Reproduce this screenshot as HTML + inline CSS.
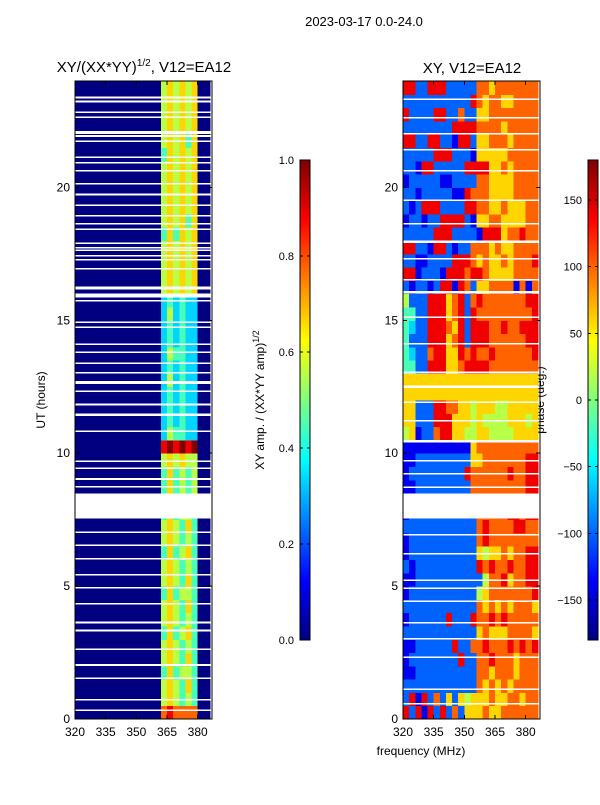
<!DOCTYPE html>
<html><head><meta charset="utf-8"><style>
body{margin:0;background:#fff;}
svg{font-family:"Liberation Sans",sans-serif;}
</style></head><body>
<svg id="fig" width="600" height="800" xmlns="http://www.w3.org/2000/svg" shape-rendering="crispEdges">
<rect width="600" height="800" fill="#fff"/>
<text x="364" y="26" font-size="13" text-anchor="middle">2023-03-17 0.0-24.0</text>
<text x="144" y="72" font-size="15" text-anchor="middle">XY/(XX*YY)<tspan dy="-6" font-size="10">1/2</tspan><tspan dy="6">, V12=EA12</tspan></text>
<text x="472" y="73" font-size="15" text-anchor="middle">XY, V12=EA12</text>
<text x="421" y="755" font-size="12" text-anchor="middle">frequency (MHz)</text>
<text x="45" y="400" font-size="12" text-anchor="middle" transform="rotate(-90 45 400)">UT (hours)</text>
<text x="264" y="400" font-size="12" text-anchor="middle" transform="rotate(-90 264 400)">XY amp. / (XX*YY amp)<tspan dy="-5" font-size="9">1/2</tspan></text>
<text x="544" y="400" font-size="12" text-anchor="middle" transform="rotate(-90 544 400)">phase (deg.)</text>
<g id="left"></g><g id="right"></g><g id="cb1"></g><g id="cb2"></g>
</svg>
<script>
const freqStart = 320, freqBinWidth = 3, hoursPerRow = 0.5;
const xTicks = [320, 335, 350, 365, 380];
const yTicks = [0, 5, 10, 15, 20];
const ampTicks = [0.0, 0.2, 0.4, 0.6, 0.8, 1.0];
const phaseTicks = [-150, -100, -50, 0, 50, 100, 150];
// amplitude rows (0..9 -> 0..1), '-' = no data; row 0 = 0-0.5 h
const ampRows = [
"0000000000000078777700","0000000000000056545400","0000000000000056546400","0000000000000046455400",
"0000000000000056546400","0000000000000056545400","0000000000000046456400","0000000000000056545400",
"0000000000000056546400","0000000000000046455400","0000000000000056546400","0000000000000056545400",
"0000000000000046456400","0000000000000056545400","0000000000000056546400","0000000000000046455400",
"----------------------","0000000000000046454500","0000000000000046454500","0000000000000056565500",
"0000000000000089898900","0000000000000035443300","0000000000000034343300","0000000000000034343300",
"0000000000000034343300","0000000000000035343300","0000000000000034343300","0000000000000035443300",
"0000000000000034343300","0000000000000034343300","0000000000000035343300","0000000000000034343300",
"0000000000000056565600","0000000000000056565600","0000000000000056565600","0000000000000056565600",
"0000000000000046465600","0000000000000056564600","0000000000000056565600","0000000000000056565600",
"0000000000000056565600","0000000000000056565600","0000000000000046565600","0000000000000056564600",
"0000000000000056565600","0000000000000056565600","0000000000000056565600","0000000000000056565600"];
// phase rows (0..9 -> -180..180)
const phaseRows = [
"8281828272666766777777","2818272626566676677677","2222222222227676767777","1122222222227767776777",
"1222222228227787776777","1122222282277877787878","2222222222226766677776","1222222822287787877777",
"2222222222227676767776","1222222222225677777778","1122222222222577867788","2122222222228787787788",
"1222222222226566767788","1222222222227877777777","2222222222227877778877","1222222222227777788788",
"----------------------","1122222222277777777788","1222222222877777787788","1122222222266777777788",
"1111111111167777777777","5612278866556655556666","6622288866656555566656","6622288776656665566666",
"6666666666666666666666","6666666666666666666666","4422888667888877777777","4322788668787787777778",
"4222888678288877777788","4322888768288877877888","4422888678287777777778","5222888678278777777788",
"2122128818726677771717","8812221888788766667777","2211222288876766767778","8822188212277767667777",
"2222288822221888677877","1221228888216677666677","2128882222887766766677","2212222211877766667777",
"1222221122227766667777","2218822222888866767777","2222288822216666677777","8822882218826677767777",
"2222222288887777677777","8222288227226677777777","2222222222287677667777","8822888222227767777777"];
const leftGaps = [[0.3,0.36],[0.7,0.76],[1.5,1.56],[2.0,2.06],[2.6,2.66],[3.3,3.36],[3.6,3.66],[4.3,4.36],[4.9,4.96],[5.4,5.46],[6.0,6.06],[6.5,6.56],[7.0,7.06],[7.55,8.23],[8.4,8.46],[8.7,8.76],[9.0,9.06],[9.4,9.46],[9.66,9.72],[10.8,10.86],[11.4,11.5],[11.8,11.86],[12.3,12.36],[12.6,12.72],[13.0,13.06],[13.35,13.41],[13.76,13.82],[14.06,14.12],[14.7,14.76],[14.9,14.96],[15.7,15.76],[15.85,16.0],[16.15,16.27],[16.9,16.96],[17.25,17.31],[17.4,17.46],[17.6,17.66],[17.7,17.76],[17.86,17.92],[18.4,18.46],[18.6,18.66],[18.9,18.96],[19.3,19.36],[19.7,19.76],[20.1,20.16],[20.6,20.66],[20.9,20.96],[21.1,21.16],[21.7,21.76],[21.9,21.96],[22.0,22.06],[22.07,22.12],[22.6,22.66],[22.8,22.86],[23.2,23.26],[23.35,23.41]];
const rightGaps = [[0.55,0.6],[1.1,1.15],[2.3,2.35],[3.0,3.05],[3.6,3.65],[4.4,4.45],[4.9,4.95],[5.2,5.25],[6.2,6.25],[6.9,6.95],[7.55,8.2],[8.7,8.75],[9.2,9.25],[9.7,9.75],[10.4,10.5],[11.2,11.25],[11.9,11.95],[12.45,12.55],[13.0,13.08],[14.1,14.15],[15.1,15.15],[16.0,16.1],[16.5,16.55],[17.3,17.35],[17.9,18.0],[18.6,18.65],[19.5,19.55],[20.6,20.65],[21.4,21.45],[22.0,22.05],[22.6,22.65],[23.3,23.35]];

const NS="http://www.w3.org/2000/svg";
function el(t,a,p){const e=document.createElementNS(NS,t);for(const k in a)e.setAttribute(k,a[k]);p.appendChild(e);return e;}
function jet(v){const c=x=>Math.round(255*Math.max(0,Math.min(1,x)));return `rgb(${c(1.5-Math.abs(4*v-3))},${c(1.5-Math.abs(4*v-2))},${c(1.5-Math.abs(4*v-1))})`;}
const yTop=81,yBot=719;
function yS(h){return yBot-(h/24)*(yBot-yTop);}
function makeX(x0){return f=>x0+(f-320)*(137/67);}
function panel(gid,x0,rows,gaps,name){
  const g=document.getElementById(gid), xS=makeX(x0);
  rows.forEach((row,ri)=>{
    for(let ci=0;ci<22;ci++){
      const ch=row[ci]; if(ch===undefined||ch==='-')continue;
      const f0=freqStart+ci*freqBinWidth, f1=Math.min(f0+freqBinWidth,387);
      const r=el('rect',{x:xS(f0),y:yS((ri+1)*hoursPerRow),width:xS(f1)-xS(f0)+0.5,height:yS(ri*hoursPerRow)-yS((ri+1)*hoursPerRow)+0.5,fill:jet(+ch/9)},g);
      
      
    }
  });
  gaps.forEach(gp=>{
    const r=el('rect',{x:x0,y:yS(gp[1]),width:137,height:Math.max(1.5,yS(gp[0])-yS(gp[1])),fill:'#fff'},g);
    
    
  });
  const fr=el('rect',{x:x0,y:yTop,width:137,height:yBot-yTop,fill:'none',stroke:'#000','stroke-width':1},g);
  
  
  xTicks.forEach(t=>{
    el('line',{x1:xS(t),x2:xS(t),y1:yBot,y2:yBot-4,stroke:'#000'},g);
    el('line',{x1:xS(t),x2:xS(t),y1:yTop,y2:yTop+4,stroke:'#000'},g);
    const tx=el('text',{x:xS(t),y:yBot+17,'font-size':12,'text-anchor':'middle'},g);tx.textContent=t;
    
    
  });
  yTicks.forEach(t=>{
    el('line',{x1:x0,x2:x0+4,y1:yS(t),y2:yS(t),stroke:'#000'},g);
    el('line',{x1:x0+137,x2:x0+133,y1:yS(t),y2:yS(t),stroke:'#000'},g);
    const tx=el('text',{x:x0-5,y:yS(t)+4,'font-size':12,'text-anchor':'end'},g);tx.textContent=t;
    
    
  });
}
panel('left',75,ampRows,leftGaps,'amplitude-heatmap');
panel('right',403,phaseRows,rightGaps,'phase-heatmap');
function colorbar(gid,x0,vmin,vmax,ticks,fmt,name){
  const g=document.getElementById(gid), y0=160,y1=640;
  for(let i=0;i<240;i++){
    const r=el('rect',{x:x0,y:y1-(i+1)*2,width:10,height:2.5,fill:jet((i+0.5)/240)},g);
    
    
  }
  el('rect',{x:x0,y:y0,width:10,height:y1-y0,fill:'none',stroke:'#000'},g);
  ticks.forEach(t=>{
    const y=y1-(t-vmin)/(vmax-vmin)*(y1-y0);
    el('line',{x1:x0,x2:x0+3,y1:y,y2:y,stroke:'#000'},g);
    el('line',{x1:x0+10,x2:x0+7,y1:y,y2:y,stroke:'#000'},g);
    const tx=el('text',{x:x0-6,y:y+4,'font-size':11,'text-anchor':'end'},g);tx.textContent=fmt(t);
    
    
  });
}
colorbar('cb1',300,0,1,ampTicks,t=>t.toFixed(1),'amplitude-colorbar');
colorbar('cb2',588,-180,180,phaseTicks,t=>(t<0?'\u2212'+(-t):''+t),'phase-colorbar');
</script>
</body></html>
